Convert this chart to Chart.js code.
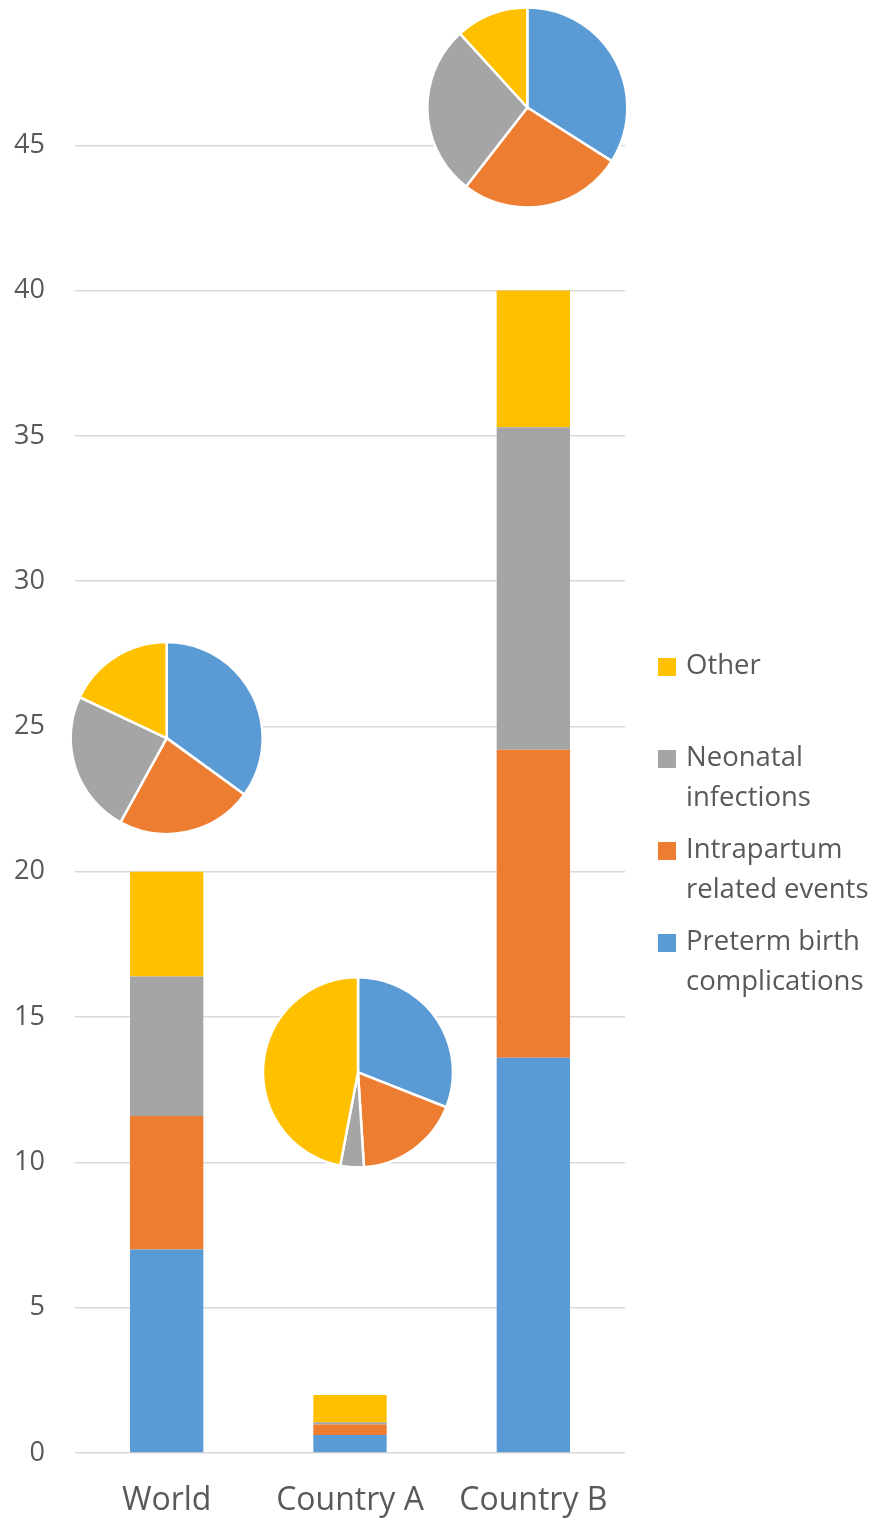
<!DOCTYPE html>
<html>
<head>
<meta charset="utf-8">
<script src="https://cdn.jsdelivr.net/npm/chart.js@4.4.1/dist/chart.umd.min.js"></script>
<style>
  html, body { margin: 0; padding: 0; background: #fff; }
  #wrap { width: 885px; height: 1522px; }
</style>
</head>
<body>
<div id="wrap"><canvas id="causesChart" width="885" height="1522"></canvas></div>
<script>
// categories and stacked values (deaths per 1000)
const categories = ["World", "Country A", "Country B"];
const preterm = [7.0, 0.62, 13.6];
const intrapartum = [4.6, 0.36, 10.6];
const neonatal = [4.8, 0.08, 11.1];
const other = [3.6, 0.94, 4.7];
const yTicks = [0, 5, 10, 15, 20, 25, 30, 35, 40, 45];

const seriesNames = ["Preterm birth complications", "Intrapartum related events", "Neonatal infections", "Other"];
const legendLines = [["Preterm birth", "complications"], ["Intrapartum", "related events"], ["Neonatal", "infections"], ["Other"]];
const colors = ["#5B9BD5", "#ED7D31", "#A5A5A5", "#FFC000"];

// where the little pies sit (value on y axis, nudge in px, radius)
const pieCenterValue = [24.6, 13.1, 46.3];
const pieShiftX = [0, 8, -6];
const pieRadius = [96, 95, 100];

const FONT = '"Open Sans", "Noto Sans", sans-serif';
const TEXT = "#595959";

const series = [preterm, intrapartum, neonatal, other];

// pies drawn on top of the bars, one per category
const piePlugin = {
  id: "pies",
  afterDatasetsDraw(chart) {
    const ctx = chart.ctx;
    const xs = chart.scales.x, ys = chart.scales.y;
    categories.forEach((cat, i) => {
      const vals = series.map((s) => s[i]);
      const total = vals.reduce((a, b) => a + b, 0);
      const cx = xs.getPixelForValue(i) + pieShiftX[i];
      const cy = ys.getPixelForValue(pieCenterValue[i]);
      const r = pieRadius[i];
      let start = -Math.PI / 2;
      vals.forEach((v, k) => {
        const end = start + (v / total) * Math.PI * 2;
        ctx.beginPath();
        ctx.moveTo(cx, cy);
        ctx.arc(cx, cy, r, start, end);
        ctx.closePath();
        ctx.fillStyle = colors[k];
        ctx.fill();
        ctx.lineWidth = 2.5;
        ctx.strokeStyle = "#ffffff";
        ctx.stroke();
        start = end;
      });
    });
  },
};

// legend on the right, reversed order, wrapped labels
const legendPlugin = {
  id: "sideLegend",
  afterDraw(chart) {
    const ctx = chart.ctx;
    const x0 = chart.chartArea.right + 33;
    let y = 666;
    ctx.save();
    ctx.font = "27.5px " + FONT;
    ctx.textBaseline = "middle";
    for (let k = series.length - 1; k >= 0; k--) {
      ctx.fillStyle = colors[k];
      ctx.fillRect(x0, y - 8, 18, 18);
      ctx.fillStyle = TEXT;
      legendLines[k].forEach((line, j) => {
        ctx.fillText(line, x0 + 28, y + j * 40);
      });
      y += 92;
    }
    ctx.restore();
  },
};

const config = {
  type: "bar",
  data: {
    labels: categories,
    datasets: series.map((s, k) => ({
      label: seriesNames[k],
      data: s,
      backgroundColor: colors[k],
      borderWidth: 0,
      barPercentage: 0.4,
      categoryPercentage: 1,
    })),
  },
  options: {
    responsive: false,
    animation: false,
    devicePixelRatio: 1,
    layout: { padding: { top: 0, right: 260, left: 0, bottom: 0 } },
    plugins: {
      legend: { display: false },
      tooltip: { enabled: false },
    },
    scales: {
      x: {
        stacked: true,
        grid: { display: false, drawTicks: false },
        border: { display: false },
        ticks: { color: TEXT, font: { family: FONT, size: 32 }, padding: 29 },
        afterFit(scale) { scale.height = 69; scale.paddingLeft = 0; scale.paddingRight = 0; },
      },
      y: {
        stacked: true,
        min: 0,
        max: 50,
        afterBuildTicks(scale) { scale.ticks = yTicks.map((v) => ({ value: v })); },
        grid: { color: "#d9d9d9", lineWidth: 1.5, drawTicks: false },
        border: { display: false },
        ticks: { color: TEXT, font: { family: FONT, size: 27 }, padding: 30, align: "center" },
        afterFit(scale) { scale.width = 75; scale.paddingTop = 0; scale.paddingBottom = 0; },
      },
    },
  },
  plugins: [piePlugin, legendPlugin],
};

const causesChart = new Chart(document.getElementById("causesChart"), config);
</script>
</body>
</html>
